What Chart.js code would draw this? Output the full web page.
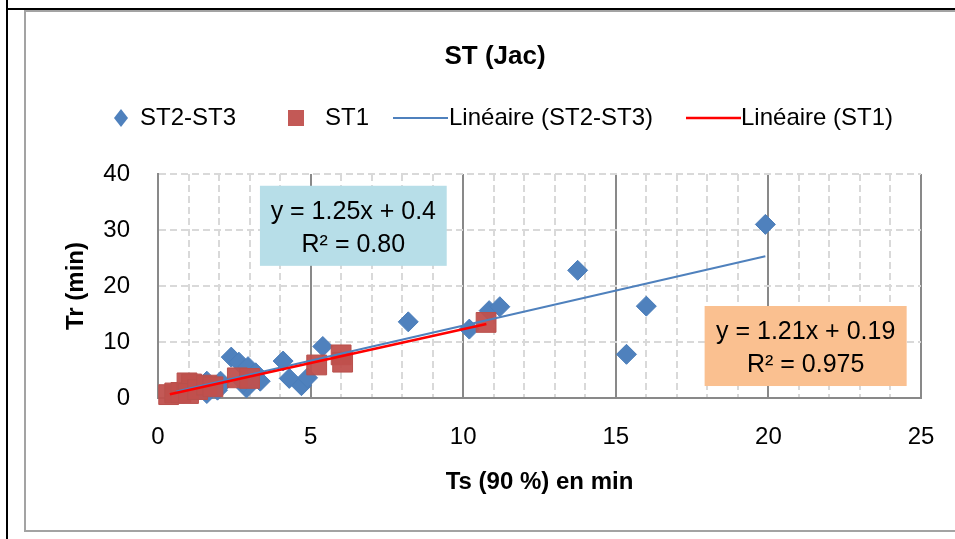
<!DOCTYPE html>
<html><head><meta charset="utf-8">
<script src="https://cdn.jsdelivr.net/npm/chart.js@4"></script>
<style>
html,body{margin:0;padding:0;background:#fff;}
#wrap{position:relative;width:955px;height:539px;overflow:hidden;background:#fff;}
canvas{position:absolute;left:0;top:0;}
.b{position:absolute;}
</style></head><body>
<div id="wrap">
<div class="b" style="left:6px;top:0;width:2px;height:539px;background:#000"></div>
<div class="b" style="left:6px;top:8px;width:949px;height:2px;background:#000"></div>
<div class="b" style="left:24px;top:10px;width:940px;height:522px;border-left:2px solid #a3a3a3;border-top:2px solid #a3a3a3;border-bottom:2px solid #a3a3a3;box-sizing:border-box"></div>
<canvas id="c" width="955" height="539"></canvas>
</div>
<script>
// ---- data ----
const chartTitle = 'ST (Jac)';
const xTitle = 'Ts (90 %) en min';
const yTitle = 'Tr (min)';
const seriesNames = ['ST2-ST3', 'ST1', 'Linéaire (ST2-ST3)', 'Linéaire (ST1)'];

const st23X = [0.7, 1.3, 1.6, 1.6, 1.95, 2.05, 2.0, 2.4, 2.65, 2.95, 3.2, 3.35, 2.9, 2.8, 4.1, 4.3, 4.7, 4.9, 5.4, 8.2, 10.2, 10.85, 11.2, 13.75, 15.35, 16.0, 19.9];
const st23Y = [1.0, 1.4, 0.8, 3.0, 1.4, 3.0, 2.0, 7.3, 6.4, 5.6, 4.5, 3.0, 1.8, 2.8, 6.6, 3.5, 2.2, 3.6, 9.2, 13.6, 12.3, 15.6, 16.3, 22.8, 7.8, 16.4, 31.0];

const st1X = [0.35, 0.55, 0.75, 0.95, 1.1, 1.0, 1.3, 1.6, 1.8, 2.6, 3.0, 5.2, 6.0, 6.05, 10.75];
const st1Y = [0.6, 0.9, 1.0, 2.7, 2.5, 0.8, 1.5, 2.3, 2.0, 3.6, 3.5, 5.9, 7.7, 6.4, 13.5];

const trend23X = [0.6, 19.9];
const trend23Y = [1.15, 25.3];
const trend1X = [0.39, 10.76];
const trend1Y = [0.66, 13.2];

const xMin = 0, xMax = 25, xMinorStep = 1, xMajorStep = 5;
const yMin = 0, yMax = 40, yStep = 10;

const eq23Lines = ['y = 1.25x + 0.4', 'R² = 0.80'];
const eq1Lines = ['y = 1.21x + 0.19', 'R² = 0.975'];

// ---- layout (not data) ----
const eq23Box = {x0: 3.34, x1: 9.46, y0: 37.9, y1: 23.6, fill: '#B7DEE8'};
const eq1Box = {x0: 17.91, x1: 24.53, y0: 16.43, y1: 2.14, fill: '#FAC090'};
const legendY = 118;
const legendSymX = [121, 296, 420, 713];
const legendTextX = [140, 325, 449, 741];

const FONT = 'Liberation Sans';
Chart.defaults.font.family = FONT;
Chart.defaults.color = '#000';

const pts = (xs, ys) => xs.map((x, i) => ({x: x, y: ys[i]}));
const dashFor = (ctx) => (ctx.tick && Math.round(ctx.tick.value) % xMajorStep === 0) ? [] : [7, 4];

const decoPlugin = {
  id: 'deco',
  afterDatasetsDraw(chart) {
    const ctx = chart.ctx, xs = chart.scales.x, ys = chart.scales.y;
    [[eq23Box, eq23Lines], [eq1Box, eq1Lines]].forEach(([b, lines]) => {
      const l = xs.getPixelForValue(b.x0), r = xs.getPixelForValue(b.x1);
      const t = ys.getPixelForValue(b.y0), bo = ys.getPixelForValue(b.y1);
      ctx.save();
      ctx.fillStyle = b.fill;
      ctx.fillRect(l, t, r - l, bo - t);
      ctx.fillStyle = '#000';
      ctx.font = '25px "' + FONT + '"';
      ctx.textAlign = 'center';
      ctx.textBaseline = 'middle';
      const cx = (l + r) / 2;
      ctx.fillText(lines[0], cx, t + 26);
      ctx.fillText(lines[1], cx, t + 59);
      ctx.restore();
    });
  },
  afterDraw(chart) {
    const ctx = chart.ctx;
    ctx.save();
    ctx.fillStyle = '#000';
    ctx.font = 'bold 26px "' + FONT + '"';
    ctx.textAlign = 'center';
    ctx.textBaseline = 'middle';
    ctx.fillText(chartTitle, 495, 57);
    // legend
    ctx.font = '24px "' + FONT + '"';
    ctx.textAlign = 'left';
    chart.data.datasets.forEach((ds, i) => {
      const sx = legendSymX[i], sy = legendY;
      ctx.save();
      if (ds.type === 'line') {
        ctx.strokeStyle = ds.borderColor;
        ctx.lineWidth = ds.borderWidth;
        ctx.beginPath();
        ctx.moveTo(sx - 27, sy);
        ctx.lineTo(sx + 28, sy);
        ctx.stroke();
      } else if (ds.pointStyle === 'rectRot') {
        ctx.fillStyle = ds.backgroundColor;
        ctx.beginPath();
        ctx.moveTo(sx, sy - 9); ctx.lineTo(sx + 7, sy); ctx.lineTo(sx, sy + 9); ctx.lineTo(sx - 7, sy);
        ctx.closePath(); ctx.fill();
      } else {
        ctx.fillStyle = ds.backgroundColor;
        ctx.fillRect(sx - 8, sy - 8, 16, 16);
      }
      ctx.restore();
      ctx.fillStyle = '#000';
      ctx.fillText(ds.label, legendTextX[i], sy);
    });
    ctx.restore();
  }
};

new Chart(document.getElementById('c'), {
  type: 'scatter',
  data: {
    datasets: [
      {label: seriesNames[0], data: pts(st23X, st23Y), pointStyle: 'rectRot', pointRadius: 10, pointHoverRadius: 10,
       backgroundColor: '#4F81BD', borderColor: '#4A7DBA', borderWidth: 1, order: 4, clip: false},
      {label: seriesNames[1], data: pts(st1X, st1Y), pointStyle: 'rect', pointRadius: 14, pointHoverRadius: 14,
       backgroundColor: 'rgba(192,80,77,0.95)', borderColor: '#B9504C', borderWidth: 1, order: 3, clip: false},
      {type: 'line', label: seriesNames[2], data: pts(trend23X, trend23Y), borderColor: '#4F81BD', backgroundColor: '#4F81BD',
       borderWidth: 2, pointRadius: 0, showLine: true, fill: false, order: 2},
      {type: 'line', label: seriesNames[3], data: pts(trend1X, trend1Y), borderColor: '#FF0000', backgroundColor: '#FF0000',
       borderWidth: 2.5, pointRadius: 0, showLine: true, fill: false, order: 1}
    ]
  },
  options: {
    responsive: false,
    animation: false,
    events: [],
    layout: {padding: {top: 174, left: 0, right: 34, bottom: 0}},
    plugins: {legend: {display: false}, title: {display: false}, tooltip: {enabled: false}},
    scales: {
      x: {
        type: 'linear', min: xMin, max: xMax,
        afterFit(s) { s.height = 141; s.paddingLeft = 0; s.paddingRight = 0; },
        ticks: {
          stepSize: xMinorStep, autoSkip: false, maxRotation: 0, padding: 25,
          font: {size: 24}, color: '#000',
          callback: (v) => (Math.round(v) % xMajorStep === 0 ? String(v) : '')
        },
        grid: {
          drawTicks: false, lineWidth: 2,
          color: (ctx) => (ctx.tick && Math.round(ctx.tick.value) % xMajorStep === 0) ? '#898989' : '#D9D9D9',
          borderDash: dashFor
        },
        border: {display: true, color: '#898989', width: 2, dash: dashFor},
        title: {display: true, text: xTitle, font: {size: 24, weight: 'bold'}, color: '#000', padding: {top: 0, bottom: 42}}
      },
      y: {
        type: 'linear', min: yMin, max: yMax,
        afterFit(s) { s.width = 158; s.paddingTop = 0; s.paddingBottom = 0; },
        ticks: {stepSize: yStep, padding: 28, font: {size: 24}, color: '#000'},
        grid: {drawTicks: false, lineWidth: 2, color: '#D9D9D9', borderDash: [7, 4]},
        border: {display: true, color: '#898989', width: 2, dash: [7, 4]},
        title: {display: true, text: yTitle, font: {size: 24, weight: 'bold'}, color: '#000', padding: {top: 62, bottom: 0}}
      }
    }
  },
  plugins: [decoPlugin]
});
</script>
</body></html>
